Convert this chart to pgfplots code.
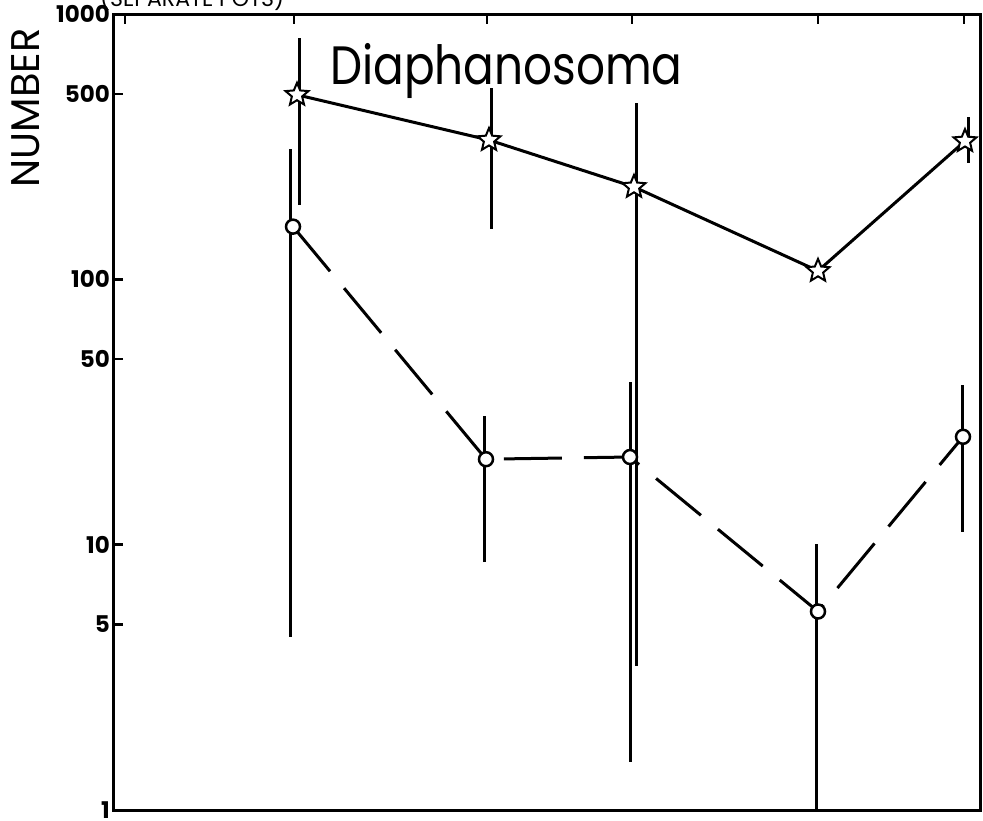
\documentclass[border=0pt]{standalone}
\usepackage{fontspec}
\setmainfont{Poppins}
\usepackage{pgfplots}
\pgfplotsset{compat=1.18}

% open five-pointed star used for the total counts
\pgfdeclareplotmark{ostar}{%
  \pgfpathmoveto{\pgfpointpolar{90}{\pgfplotmarksize}}%
  \pgfpathlineto{\pgfpointpolar{126}{0.45\pgfplotmarksize}}%
  \pgfpathlineto{\pgfpointpolar{162}{\pgfplotmarksize}}%
  \pgfpathlineto{\pgfpointpolar{198}{0.45\pgfplotmarksize}}%
  \pgfpathlineto{\pgfpointpolar{234}{\pgfplotmarksize}}%
  \pgfpathlineto{\pgfpointpolar{270}{0.45\pgfplotmarksize}}%
  \pgfpathlineto{\pgfpointpolar{306}{\pgfplotmarksize}}%
  \pgfpathlineto{\pgfpointpolar{342}{0.45\pgfplotmarksize}}%
  \pgfpathlineto{\pgfpointpolar{18}{\pgfplotmarksize}}%
  \pgfpathlineto{\pgfpointpolar{54}{0.45\pgfplotmarksize}}%
  \pgfpathclose
  \pgfusepathqfillstroke}

\begin{document}
\begin{tikzpicture}
\begin{axis}[
  scale only axis,
  width=867pt, height=796pt,
  at={(113pt,-810pt)}, anchor=south west,
  xmin=113, xmax=980,
  ymode=log, ymin=1, ymax=1000,
  axis line style={line width=3pt},
  xtick={125,294,487,632,818,964},
  xticklabels={},
  xtick pos=top,
  ytick={1,5,10,50,100,500,1000},
  yticklabels={1,5,10,50,100,500,1000},
  ytick pos=left,
  yminorticks=false,
  tick style={line width=2.5pt, black},
  major tick length=10pt,
  yticklabel style={font=\fontsize{23}{23}\selectfont\bfseries, inner sep=0pt, anchor=east, xshift=-3pt},
  clip=false,
  errbar/.style={black, line width=3pt, mark=none},
]
% error bars, total (stars)
\addplot[errbar] coordinates {(299,191) (299,813)};
\addplot[errbar] coordinates {(491,155) (491,527)};
\addplot[errbar] coordinates {(636,3.5) (636,462)};
\addplot[errbar] coordinates {(968,275) (968,409)};
% error bars, separate pots (circles)
\addplot[errbar] coordinates {(290,4.5) (290,311)};
\addplot[errbar] coordinates {(484,8.6) (484,30.5)};
\addplot[errbar] coordinates {(630,1.52) (630,41)};
\addplot[errbar] coordinates {(816,1) (816,10.1)};
\addplot[errbar] coordinates {(962,11.2) (962,40)};
% means
\addplot[black, line width=3pt, dash pattern=on 58pt off 22pt,
  mark=*, mark size=7pt, mark options={solid, fill=white, line width=2.5pt}]
  coordinates {(293,158) (486,21.0) (630,21.4) (818,5.6) (963,25.5)};
\addplot[black, line width=3pt,
  mark=ostar, mark size=12pt, mark options={solid, fill=white, line width=2pt}]
  coordinates {(297,496) (489,335) (634,223) (818,107.6) (965,332)};
\end{axis}
\node[font=\fontsize{54}{54}\selectfont, anchor=base west, xscale=0.84, inner sep=0pt] at (330pt,-84pt) {Diaphanosoma};
\node[font=\fontsize{40}{40}\selectfont, rotate=90, anchor=center] at (26pt,-108pt) {NUMBER};
\node[font=\fontsize{22}{22}\selectfont, anchor=base west, inner sep=0pt] at (100pt,-6pt) {(SEPARATE POTS)};
\pgfresetboundingbox
\path[use as bounding box] (0,0) rectangle (983pt,-820pt);
\end{tikzpicture}
\end{document}
